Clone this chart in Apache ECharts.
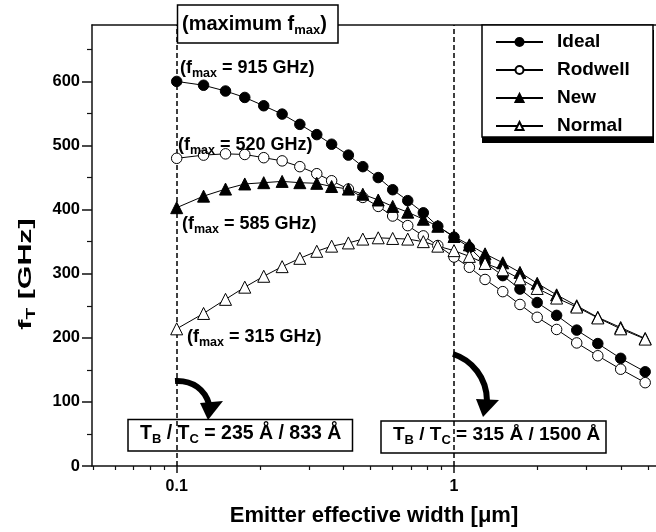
<!DOCTYPE html>
<html>
<head>
<meta charset="utf-8">
<script src="https://cdn.jsdelivr.net/npm/echarts@6/dist/echarts.min.js"></script>
<style>
html, body { margin: 0; padding: 0; background: #fff; }
#main { width: 656px; height: 532px; }
</style>
</head>
<body>
<div id="main"></div>
<script>
// emitter effective width [um]
var widths = [0.1, 0.125, 0.15, 0.176, 0.206, 0.24, 0.278, 0.32, 0.362, 0.416, 0.469, 0.533, 0.601, 0.681,
	0.775, 0.874, 1.0, 1.136, 1.294, 1.499, 1.729, 1.995, 2.344, 2.77, 3.3, 3.99, 4.89];
// fT [GHz]
var ideal = [600, 594, 585, 575, 562, 549, 533, 517, 502, 485, 467, 450, 431, 414, 395, 374, 357, 341, 317, 297,
	276, 255, 235, 212, 191, 168, 147];
var rodwell = [480, 485, 487, 486, 481, 476, 467, 456, 445, 432, 419, 405, 390, 375, 359, 344, 326, 310, 291, 272,
	252, 232, 213, 192, 172, 151, 130];
var newModel = [403, 421, 432, 440, 442, 444, 442, 441, 436, 432, 424, 415, 405, 396, 385, 374, 358, 345, 331, 317,
	302, 285, 267, 250, 232, 216, 199];
var normal = [214, 238, 260, 279, 296, 311, 324, 335, 343, 348, 354, 356, 355, 354, 350, 343, 336, 327, 316, 306,
	292, 277, 262, 248, 231, 214, 198];

var xMajor = [0.1, 1];
var xMinor = [0.05, 0.06, 0.07, 0.08, 0.09, 0.2, 0.3, 0.4, 0.5, 0.6, 0.7, 0.8, 0.9, 2, 3, 4, 5];
var yMajor = [0, 100, 200, 300, 400, 500, 600];
var yMinor = [50, 150, 250, 350, 450, 550, 650];

var FONT = "'Liberation Sans', Arial, sans-serif";

function pairs(ys) {
	return widths.map(function (w, i) { return [w, ys[i]]; });
}

function lineSeries(name, ys, symbol, fill, size) {
	return {
		name: name,
		type: 'line',
		data: pairs(ys),
		symbol: symbol,
		symbolSize: size,
		showAllSymbol: true,
		lineStyle: { color: '#000', width: 1 },
		itemStyle: { color: fill, borderColor: '#000', borderWidth: 1 },
		emphasis: { disabled: true },
		z: 3
	};
}

// rich text pieces: m = main text, s = subscript
function richStyle(main, sub, lh) {
	return {
		m: { fontSize: main, fontWeight: 'bold', fontFamily: FONT, lineHeight: lh, fill: '#000' },
		s: { fontSize: sub, fontWeight: 'bold', fontFamily: FONT, lineHeight: sub, padding: [lh - sub + 1, 0, 0, 0], fill: '#000' }
	};
}

function label(x, y, text, main, sub) {
	return {
		type: 'text', x: x, y: y, z: 10,
		style: {
			text: text, rich: richStyle(main, sub, main + 4),
			align: 'left', verticalAlign: 'middle'
		}
	};
}

var series = [
	lineSeries('Ideal', ideal, 'circle', '#000', 10.5),
	lineSeries('Rodwell', rodwell, 'circle', '#fff', 10.5),
	lineSeries('New', newModel, 'triangle', '#000', 12),
	lineSeries('Normal', normal, 'triangle', '#fff', 12)
];
series[0].markLine = {
	silent: true,
	z: 1,
	symbol: ['none', 'none'],
	label: { show: false },
	lineStyle: { color: '#000', type: [5, 3], width: 1.5 },
	data: [{ xAxis: 0.1 }, { xAxis: 1 }]
};

var myChart = echarts.init(document.getElementById('main'));

var option = {
	animation: false,
	backgroundColor: '#fff',
	grid: { left: 92, top: 25, right: 0, bottom: 64 },
	xAxis: [{
		type: 'log', logBase: 10, min: 0.0495, max: 5.35,
		position: 'bottom',
		name: 'Emitter effective width [\u03bcm]',
		nameLocation: 'middle', nameGap: 39,
		nameTextStyle: { fontSize: 22, fontWeight: 'bold', fontFamily: FONT, color: '#000' },
		axisLine: { lineStyle: { color: '#111', width: 1.5 } },
		axisTick: { customValues: xMajor, length: 7, lineStyle: { color: '#111', width: 1.5 } },
		axisLabel: {
			customValues: xMajor, margin: 13,
			fontSize: 16, fontWeight: 'bold', fontFamily: FONT, color: '#000',
			formatter: function (v) { return String(v); }
		},
		splitLine: { show: false }, minorTick: { show: false }
	}, {
		type: 'log', logBase: 10, min: 0.0495, max: 5.35,
		position: 'bottom',
		axisLine: { show: false },
		axisTick: { customValues: xMinor, length: 4, lineStyle: { color: '#111', width: 1.2 } },
		axisLabel: { show: false },
		splitLine: { show: false }
	}, {
		type: 'log', logBase: 10, min: 0.0495, max: 5.35,
		position: 'top',
		axisLine: { lineStyle: { color: '#111', width: 1.5 } },
		axisTick: { show: false },
		axisLabel: { show: false },
		splitLine: { show: false }
	}],
	yAxis: [{
		type: 'value', min: 0, max: 688,
		position: 'left',
		axisLine: { show: true, lineStyle: { color: '#111', width: 1.5 } },
		axisTick: { show: true, customValues: yMajor, length: 10, lineStyle: { color: '#111', width: 1.5 } },
		axisLabel: {
			customValues: yMajor, margin: 12,
			fontSize: 16.5, fontWeight: 'bold', fontFamily: FONT, color: '#000'
		},
		splitLine: { show: false }
	}, {
		type: 'value', min: 0, max: 688,
		position: 'left',
		axisLine: { show: false },
		axisTick: { show: true, customValues: yMinor, length: 5, lineStyle: { color: '#111', width: 1.2 } },
		axisLabel: { show: false },
		splitLine: { show: false }
	}],
	legend: {
		orient: 'vertical',
		left: 495, top: 32,
		padding: 0,
		itemWidth: 47, itemHeight: 10, itemGap: 8,
		z: 12,
		textStyle: { fontSize: 19, fontWeight: 'bold', fontFamily: FONT, color: '#000', lineHeight: 20, padding: [0, 0, 0, 9] },
		data: ['Ideal', 'Rodwell', 'New', 'Normal']
	},
	graphic: [
		// legend frame with heavy bottom shadow
		{ type: 'rect', z: 11, shape: { x: 482, y: 30, width: 172, height: 113 }, style: { fill: '#000' } },
		{ type: 'rect', z: 11, shape: { x: 482, y: 25, width: 171, height: 112 }, style: { fill: '#fff', stroke: '#000', lineWidth: 1.5 } },
		// (maximum fmax) box
		{ type: 'rect', z: 9, shape: { x: 177.5, y: 5, width: 160.5, height: 38 }, style: { fill: '#fff', stroke: '#000', lineWidth: 1.5 } },
		label(182, 24, '{m|(maximum f}{s|max}{m|)}', 20, 13),
		label(180, 68, '{m|(f}{s|max}{m| = 915 GHz)}', 18, 12.5),
		label(178, 145, '{m|(f}{s|max}{m| = 520 GHz)}', 18, 12.5),
		label(182, 224, '{m|(f}{s|max}{m| = 585 GHz)}', 18, 12.5),
		label(187, 337, '{m|(f}{s|max}{m| = 315 GHz)}', 18, 12.5),
		// thickness boxes
		{ type: 'rect', z: 9, shape: { x: 128, y: 419.5, width: 224.5, height: 31.5 }, style: { fill: 'none', stroke: '#000', lineWidth: 1.5 } },
		label(140, 434, '{m|T}{s|B}{m| / T}{s|C}{m| = 235 \u00c5 / 833 \u00c5}', 19.5, 13),
		{ type: 'rect', z: 9, shape: { x: 381, y: 421, width: 225, height: 32 }, style: { fill: 'none', stroke: '#000', lineWidth: 1.5 } },
		label(393, 435, '{m|T}{s|B}{m| / T}{s|C}{m| = 315 \u00c5 / 1500 \u00c5}', 19, 13),
		// curved arrows
		{ type: 'bezierCurve', z: 9, shape: { x1: 175, y1: 381, cpx1: 193, cpy1: 380, cpx2: 205, cpy2: 390, x2: 209, y2: 404 },
			style: { stroke: '#000', lineWidth: 6, fill: 'none' } },
		{ type: 'polygon', z: 9, shape: { points: [[200, 403], [223, 401], [208, 420]] }, style: { fill: '#000' } },
		{ type: 'bezierCurve', z: 9, shape: { x1: 453, y1: 354, cpx1: 472, cpy1: 360, cpx2: 487, cpy2: 378, x2: 487, y2: 401 },
			style: { stroke: '#000', lineWidth: 6, fill: 'none' } },
		{ type: 'polygon', z: 9, shape: { points: [[476, 399], [499, 400], [483, 417]] }, style: { fill: '#000' } },
		// y axis title
		{
			type: 'text', x: 26, y: 274, rotation: Math.PI / 2, scaleX: 1.6, z: 10,
			style: {
				text: '{m|f}{s|T}{m| [GHz]}', rich: richStyle(19, 12, 23),
				align: 'center', verticalAlign: 'middle'
			}
		}
	],
	series: series
};

myChart.setOption(option);
</script>
</body>
</html>
